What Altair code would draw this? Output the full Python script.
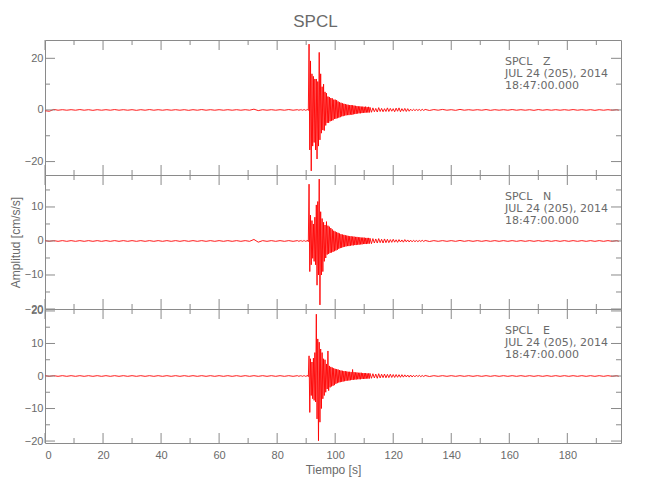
import altair as alt
import pandas as pd

# ---------------- data ----------------
times = [0, 3, 6, 9, 12, 15, 18, 21, 24, 27, 30, 33, 36, 39, 42, 45, 48, 51, 54, 57,
         60, 63, 66, 69, 72, 75, 78, 81, 84, 87,
         88, 88.5, 89, 89.5, 90, 90.5,
         91, 91.5, 92, 92.5, 93, 93.5, 94, 94.5, 95, 95.5,
         96, 96.5, 97, 97.5, 98, 98.5, 99, 99.5, 100, 100.5,
         101, 101.5, 102, 102.5, 103, 103.5, 104, 104.5, 105, 105.5,
         106, 106.5, 107, 107.5, 108, 108.5, 109, 109.5, 110, 110.5,
         111, 111.5, 112,
         113, 114, 115, 116, 117, 118, 119, 120, 121, 122, 123, 124, 125, 126, 127, 128, 129, 130, 131,
         134, 137, 140, 143, 146, 149, 152, 155, 158, 161, 164, 167, 170, 173, 176, 179, 182, 185,
         188, 191, 194, 197]

# Z component: upper / lower swing per time bin (cm/s/s)
z_hi = [-0.3, 0.2, 0.1, 0.1, 0.15, 0.1, 0.1, 0.1, 0.15, 0.1, 0.1, 0.1, 0.15, 0.1, 0.1, 0.1, 0.1, 0.1, 0.15, 0.1,
        0.1, 0.1, 0.1, 0.1, 0.3, 0.1, 0.1, 0.1, 0.15, 0.1,
        0.1, 0.15, 0.1, 0.15, 0.1, 0.2,
        25.5, 19, 14, 13, 12, 12, 11, 22.3, 14, 9,
        10, 7, 6.5, 5.2, 5, 4.6, 4.5, 4, 4, 3.8,
        3.3, 3, 2.8, 2.6, 2.4, 2.3, 2.1, 2, 1.9, 1.9,
        1.8, 1.7, 1.6, 1.5, 1.4, 1.4, 1.3, 1.3, 1.2, 1.3,
        1.1, 1.2, 1.0,
        0.8, 0.6, 0.9, 0.6, 0.5, 0.8, 0.6, 0.5, 0.7, 0.8, 0.5, 0.6, 0.5, 0.3, 0.25, 0.2, 0.2, 0.25, 0.2,
        0.15, 0.2, 0.1, 0.2, 0.1, 0.1, 0.15, 0.1, 0.1, 0.15, 0.1, 0.1, 0.15, 0.1, 0.1, 0.1, 0.15, 0.1,
        0.1, 0.1, 0.1, 0.1]
z_lo = [-0.5, -0.1, -0.1, -0.1, -0.1, -0.15, -0.1, -0.1, -0.1, -0.1, -0.15, -0.1, -0.1, -0.1, -0.1, -0.1, -0.15, -0.1, -0.1, -0.1,
        -0.1, -0.1, -0.1, -0.1, -0.25, -0.1, -0.1, -0.1, -0.1, -0.1,
        -0.1, -0.1, -0.1, -0.15, -0.1, -0.2,
        -15.5, -23.6, -14, -12.6, -15.5, -19, -14, -11.6, -9, -7.8,
        -8, -6, -5, -5, -4.4, -4.2, -4, -3.5, -3.4, -3.2,
        -3, -2.8, -2.5, -2.4, -2.2, -2.1, -2, -2, -1.8, -1.9,
        -1.7, -1.6, -1.5, -1.4, -1.3, -1.3, -1.2, -1.1, -1.1, -1.0,
        -1.0, -1.0, -0.9,
        -0.7, -0.8, -0.6, -0.7, -0.6, -0.6, -0.5, -0.7, -0.5, -0.7, -0.5, -0.6, -0.5, -0.3, -0.25, -0.2, -0.25, -0.2, -0.2,
        -0.1, -0.1, -0.15, -0.1, -0.1, -0.1, -0.15, -0.1, -0.1, -0.1, -0.1, -0.15, -0.1, -0.1, -0.1, -0.1, -0.1, -0.1,
        -0.15, -0.1, -0.1, -0.1]

# N component
n_hi = [0.1, 0.1, 0.1, 0.1, 0.1, 0.1, 0.1, 0.1, 0.1, 0.1, 0.1, 0.1, 0.1, 0.1, 0.1, 0.1, 0.1, 0.1, 0.1, 0.1,
        0.1, 0.1, 0.1, 0.1, 0.45, 0.1, 0.1, 0.1, 0.1, 0.1,
        0.1, 0.1, 0.1, 0.1, 0.1, 0.2,
        16.7, 7.6, 6, 5, 7, 10.6, 11.6, 18.2, 8.6, 6.6,
        5.5, 4.7, 5.7, 4.5, 4.2, 3.8, 3.4, 3.0, 2.8, 2.6,
        2.4, 2.2, 2.0, 1.9, 1.8, 1.7, 1.6, 1.5, 1.4, 1.4,
        1.3, 1.3, 1.2, 1.2, 1.1, 1.1, 1.0, 1.0, 1.0, 0.9,
        0.9, 0.9, 0.8,
        0.7, 0.6, 0.7, 0.5, 0.6, 0.5, 0.4, 0.5, 0.35, 0.4, 0.3, 0.4, 0.3, 0.25, 0.2, 0.15, 0.15, 0.2, 0.15,
        0.1, 0.1, 0.1, 0.15, 0.1, 0.1, 0.1, 0.1, 0.1, 0.1, 0.1, 0.1, 0.1, 0.1, 0.1, 0.1, 0.1, 0.1,
        0.1, 0.1, 0.1, 0.1]
n_lo = [-0.1, -0.1, -0.1, -0.1, -0.1, -0.1, -0.1, -0.1, -0.1, -0.1, -0.1, -0.1, -0.1, -0.1, -0.1, -0.1, -0.1, -0.1, -0.1, -0.1,
        -0.1, -0.1, -0.1, -0.1, -0.35, -0.1, -0.1, -0.1, -0.1, -0.1,
        -0.1, -0.1, -0.1, -0.1, -0.1, -0.2,
        -9, -7, -5.1, -6, -7, -13, -10, -18.8, -10, -9,
        -6, -5, -4, -3.8, -3.5, -3.4, -3.2, -3.0, -2.8, -2.6,
        -2.3, -2.1, -2.0, -1.8, -1.7, -1.6, -1.5, -1.5, -1.4, -1.3,
        -1.3, -1.2, -1.2, -1.1, -1.1, -1.0, -1.0, -0.9, -0.9, -0.9,
        -0.8, -0.8, -0.8,
        -0.6, -0.6, -0.5, -0.6, -0.5, -0.5, -0.4, -0.35, -0.4, -0.3, -0.35, -0.25, -0.3, -0.25, -0.2, -0.2, -0.15, -0.15, -0.15,
        -0.1, -0.1, -0.1, -0.1, -0.1, -0.1, -0.1, -0.1, -0.1, -0.1, -0.1, -0.1, -0.1, -0.1, -0.1, -0.1, -0.1, -0.1,
        -0.1, -0.1, -0.1, -0.1]

# E component
e_hi = [0.1, 0.1, 0.1, 0.1, 0.1, 0.1, 0.1, 0.1, 0.1, 0.1, 0.1, 0.1, 0.1, 0.1, 0.1, 0.1, 0.1, 0.1, 0.1, 0.1,
        0.1, 0.1, 0.1, 0.1, 0.1, 0.1, 0.1, 0.1, 0.1, 0.1,
        0.1, 0.1, 0.1, 0.1, 0.1, 0.2,
        6.2, 5.3, 4.3, 5.5, 7.2, 19, 11.4, 10.4, 8.3, 7.2,
        5.3, 5, 3.7, 7.7, 3.1, 2.8, 2.6, 2.4, 2.2, 2.1,
        2.0, 1.8, 1.7, 1.6, 1.5, 1.5, 1.4, 1.3, 1.3, 1.2,
        2.0, 1.2, 1.1, 1.1, 1.0, 1.0, 1.0, 0.9, 0.9, 0.9,
        0.8, 0.8, 0.8,
        0.7, 0.6, 0.7, 0.55, 0.6, 0.5, 0.55, 0.45, 0.45, 0.4, 0.4, 0.35, 0.3, 0.3, 0.2, 0.25, 0.2, 0.15, 0.15,
        0.1, 0.1, 0.1, 0.1, 0.1, 0.1, 0.1, 0.1, 0.1, 0.1, 0.1, 0.1, 0.1, 0.1, 0.1, 0.1, 0.1, 0.1,
        0.1, 0.1, 0.1, 0.1]
e_lo = [-0.1, -0.1, -0.1, -0.1, -0.1, -0.1, -0.1, -0.1, -0.1, -0.1, -0.1, -0.1, -0.1, -0.1, -0.1, -0.1, -0.1, -0.1, -0.1, -0.1,
        -0.1, -0.1, -0.1, -0.1, -0.1, -0.1, -0.1, -0.1, -0.1, -0.1,
        -0.1, -0.1, -0.1, -0.1, -0.1, -0.2,
        -11.2, -6, -7, -7.5, -8, -13.2, -19.9, -14.2, -10, -7,
        -6, -5, -4, -4.5, -3.5, -3.2, -3.0, -2.8, -2.4, -2.2,
        -2.0, -1.9, -1.8, -1.7, -1.6, -1.5, -1.4, -1.4, -1.3, -1.2,
        -1.2, -1.1, -1.1, -1.0, -1.0, -1.0, -0.9, -0.9, -0.9, -0.8,
        -0.8, -0.8, -0.7,
        -0.6, -0.7, -0.6, -0.5, -0.55, -0.5, -0.45, -0.45, -0.4, -0.4, -0.35, -0.3, -0.35, -0.3, -0.25, -0.2, -0.2, -0.15, -0.15,
        -0.1, -0.1, -0.1, -0.1, -0.1, -0.1, -0.1, -0.1, -0.1, -0.1, -0.1, -0.1, -0.1, -0.1, -0.1, -0.1, -0.1, -0.1,
        -0.1, -0.1, -0.1, -0.1]

components = ["Z", "N", "E"]
station = "SPCL"
date_line = "JUL 24 (205), 2014"
time_line = "18:47:00.000"

y_domains = [[-25.2, 27.1], [-20, 19.4], [-20.6, 20.6]]
y_labels = [[-20, 0, 20], [-20, -10, 0, 10], [-20, -10, 0, 10, 20]]
y_minor = [[-10, 10], [-15, -5, 5, 15], [-15, -5, 5, 15]]
x_labels = [0, 20, 40, 60, 80, 100, 120, 140, 160, 180]
x_minor = [10, 30, 50, 70, 90, 110, 130, 150, 170, 190]
x_max = 198.5

# ---------------- styling ----------------
W = 576
HEIGHTS = [135, 134, 134]
FRAME = "#8a8a8a"
TXT = "#6a6a6a"
FONT = "Liberation Sans"
NOTE_FONT = "DejaVu Sans"
MAJ, MIN = 10, 5


def trace_df(hi, lo):
    rows = []
    for i, t in enumerate(times):
        nxt = times[i + 1] if i + 1 < len(times) else t + 1.5
        rows.append({"t": t, "v": hi[i]})
        rows.append({"t": (t + nxt) / 2, "v": lo[i]})
    return pd.DataFrame(rows)


def panel(k, hi, lo):
    h = HEIGHTS[k]
    xs = alt.Scale(domain=[0, x_max], nice=False, zero=False)
    ys = alt.Scale(domain=y_domains[k], nice=False, zero=False)
    if k == 2:
        xaxis = alt.Axis(values=x_labels, ticks=False, domain=False, grid=False,
                         labelFont=FONT, labelFontSize=11, labelColor=TXT, labelPadding=6,
                         title="Tiempo [s]", titleFont=FONT, titleFontSize=12,
                         titleFontWeight="normal", titleColor=TXT, titlePadding=4)
    else:
        xaxis = None
    yaxis = alt.Axis(values=y_labels[k], ticks=False, domain=False, grid=False,
                     labelFont=FONT, labelFontSize=11, labelColor=TXT, labelPadding=2,
                     title="Amplitud [cm/s/s]" if k == 1 else None,
                     titleFont=FONT, titleFontSize=12, titleFontWeight="normal",
                     titleColor=TXT, titlePadding=2)

    line = alt.Chart(trace_df(hi, lo)).mark_line(
        color="#ff0000", strokeWidth=0.9, clip=True
    ).encode(x=alt.X("t:Q", scale=xs, axis=xaxis),
             y=alt.Y("v:Q", scale=ys, axis=yaxis))

    layers = [line]
    for vals, ln in ((x_labels, MAJ), (x_minor, MIN)):
        d = pd.DataFrame({"t": vals})
        layers.append(alt.Chart(d).mark_rule(color=FRAME, strokeWidth=1).encode(
            x=alt.X("t:Q", scale=xs, axis=xaxis), y=alt.value(0), y2=alt.value(ln)))
        layers.append(alt.Chart(d).mark_rule(color=FRAME, strokeWidth=1).encode(
            x=alt.X("t:Q", scale=xs, axis=xaxis), y=alt.value(h), y2=alt.value(h - ln)))
    for vals, ln in ((y_labels[k], MAJ), (y_minor[k], MIN)):
        d = pd.DataFrame({"v": vals})
        layers.append(alt.Chart(d).mark_rule(color=FRAME, strokeWidth=1).encode(
            y=alt.Y("v:Q", scale=ys, axis=yaxis), x=alt.value(0), x2=alt.value(ln)))
        layers.append(alt.Chart(d).mark_rule(color=FRAME, strokeWidth=1).encode(
            y=alt.Y("v:Q", scale=ys, axis=yaxis), x=alt.value(W), x2=alt.value(W - ln)))

    lines = [station + "\u00a0\u00a0\u00a0" + components[k], date_line, time_line]
    for j, s in enumerate(lines):
        d = pd.DataFrame({"label": [s]})
        layers.append(alt.Chart(d).mark_text(
            align="left", baseline="middle", font=NOTE_FONT, fontSize=11, color=TXT
        ).encode(text="label:N", x=alt.value(460), y=alt.value(22 + 12 * j)))

    return alt.layer(*layers).properties(width=W, height=h)


panels = [panel(0, z_hi, z_lo), panel(1, n_hi, n_lo), panel(2, e_hi, e_lo)]

chart = alt.vconcat(*panels, spacing=0, bounds="flush").properties(
    title=alt.TitleParams(station, fontSize=17, font=FONT, color=TXT,
                          fontWeight="normal", anchor="middle", offset=8),
    padding={"left": 0, "top": 5, "right": 5, "bottom": 5},
).configure_view(stroke=FRAME, strokeWidth=1).configure_concat(spacing=0)

chart.save("out.html", embed_options={"renderer": "svg", "actions": False})
